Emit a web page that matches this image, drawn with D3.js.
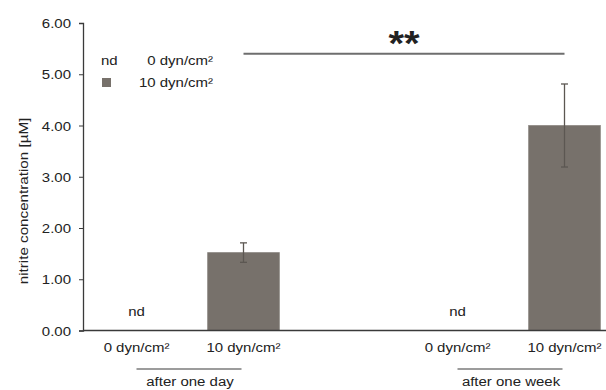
<!DOCTYPE html>
<html>
<head>
<meta charset="utf-8">
<script src="https://cdn.jsdelivr.net/npm/d3@7"></script>
<style>
  html, body { margin: 0; padding: 0; background: #fff; }
  svg { display: block; }
  text { font-family: "Liberation Sans", Arial, sans-serif; fill: #222; }
</style>
</head>
<body>
<svg id="chart" width="606" height="390"></svg>
<script>
// Slots along the x axis; the empty middle slot separates the two time points
const slots = ["day-0", "day-10", "gap", "week-0", "week-10"];
const slotLabels = ["0 dyn/cm²", "10 dyn/cm²", "", "0 dyn/cm²", "10 dyn/cm²"];
// Mean nitrite concentration (µM); null = not detected
const means = [null, 1.52, null, null, 4.00];
// Error bar half-widths (µM)
const errors = [null, 0.19, null, null, 0.81];
// Time-point groups: first and last slot of each bracket
const groupNames = ["after one day", "after one week"];
const groupStart = ["day-0", "week-0"];
const groupEnd = ["day-10", "week-10"];
// Significance bracket between the two 10 dyn/cm² bars
const sigFrom = "day-10";
const sigTo = "week-10";
const sigLevel = 5.4;
const sigText = "**";
// Y axis
const yTicks = [0, 1, 2, 3, 4, 5, 6];
const yLabel = "nitrite concentration [µM]";
// Legend entries
const legendKeys = ["nd", "box"];
const legendLabels = ["0 dyn/cm²", "10 dyn/cm²"];

const barColor = "#77716b";
const fontSize = 15;
const squash = 0.86;   // text is drawn slightly condensed vertically
const svg = d3.select("#chart");

// Adds a text whose baseline sits at (px, py), vertically condensed
function label(parent, px, py, str, anchor = "middle", size = fontSize) {
  return parent.append("text")
    .attr("transform", `translate(${px},${py}) scale(1,${squash})`)
    .attr("text-anchor", anchor)
    .style("font-size", size + "px")
    .text(str);
}

const x = d3.scaleBand()
  .domain(slots)
  .range([83, 618])
  .paddingInner(0.33)
  .paddingOuter(0.165);

const y = d3.scaleLinear().domain([0, 6]).range([330.5, 23]);

// Y axis
const yAxis = svg.append("g")
  .attr("transform", "translate(83,0)")
  .call(d3.axisLeft(y).tickValues(yTicks).tickFormat(d3.format(".2f")).tickSizeOuter(0).tickSize(4).tickPadding(8));
yAxis.select(".domain").attr("stroke", "#3a3a3a").attr("stroke-width", 1.3);
yAxis.selectAll(".tick line").attr("stroke", "#3a3a3a");
yAxis.selectAll(".tick text")
  .style("font-family", '"Liberation Sans", Arial, sans-serif')
  .style("font-size", fontSize + "px").attr("fill", "#222")
  .attr("dy", null).attr("y", 0)
  .attr("transform", `translate(0,${0.36 * fontSize * squash}) scale(1,${squash})`);

svg.append("text")
  .attr("transform", `translate(28,${201}) rotate(-90) scale(1,${squash})`)
  .attr("text-anchor", "middle")
  .style("font-size", "15.2px")
  .text(yLabel);

// Bars
const data = slots.map((s, i) => ({ slot: s, label: slotLabels[i], mean: means[i], err: errors[i] }));
const cx = s => x(s) + x.bandwidth() / 2;

svg.append("g").selectAll("rect")
  .data(data.filter(d => d.mean !== null))
  .join("rect")
  .attr("x", d => x(d.slot))
  .attr("width", x.bandwidth())
  .attr("y", d => y(d.mean))
  .attr("height", d => y(0) - y(d.mean))
  .attr("fill", barColor)
  .attr("stroke", "#8e8984")
  .attr("stroke-width", 0.8);

// Error bars
const eb = svg.append("g").attr("stroke", "#5c5752").attr("stroke-width", 1.3)
  .selectAll("g").data(data.filter(d => d.err !== null)).join("g");
eb.append("line")
  .attr("x1", d => cx(d.slot)).attr("x2", d => cx(d.slot))
  .attr("y1", d => y(d.mean + d.err)).attr("y2", d => y(d.mean - d.err));
eb.append("line")
  .attr("x1", d => cx(d.slot) - 3.5).attr("x2", d => cx(d.slot) + 3.5)
  .attr("y1", d => y(d.mean + d.err)).attr("y2", d => y(d.mean + d.err));
eb.append("line")
  .attr("x1", d => cx(d.slot) - 3.5).attr("x2", d => cx(d.slot) + 3.5)
  .attr("y1", d => y(d.mean - d.err)).attr("y2", d => y(d.mean - d.err));

// "nd" markers for undetected samples
const ndG = svg.append("g");
data.filter(d => d.mean === null && d.label !== "").forEach(d => {
  label(ndG, cx(d.slot), y(0) - 14.5, "nd");
});

// X axis line
svg.append("line")
  .attr("x1", 83).attr("x2", 606)
  .attr("y1", y(0)).attr("y2", y(0))
  .attr("stroke", "#3a3a3a").attr("stroke-width", 1.3);

// Category labels
const catG = svg.append("g");
data.filter(d => d.label !== "").forEach(d => {
  label(catG, cx(d.slot), 352, d.label);
});

// Group brackets and names
groupNames.forEach((name, i) => {
  svg.append("line")
    .attr("x1", cx(groupStart[i])).attr("x2", cx(groupEnd[i]) - 2)
    .attr("y1", 369).attr("y2", 369)
    .attr("stroke", "#3a3a3a").attr("stroke-width", 1.2);
  label(svg, (cx(groupStart[i]) + cx(groupEnd[i])) / 2, 386, name);
});

// Significance line
svg.append("line")
  .attr("x1", cx(sigFrom)).attr("x2", cx(sigTo))
  .attr("y1", y(sigLevel)).attr("y2", y(sigLevel))
  .attr("stroke", "#6e6e6e").attr("stroke-width", 1.8);
label(svg, (cx(sigFrom) + cx(sigTo)) / 2, y(sigLevel) + 1, sigText, "middle", 40)
  .style("font-weight", "bold")
  .attr("fill", "#111");

// Legend
const lg = svg.append("g");
legendKeys.forEach((k, i) => {
  const by = 64.5 + i * 22;
  if (k === "nd") {
    label(lg, 101, by, "nd", "start");
  } else {
    lg.append("rect").attr("x", 102).attr("y", by - 8.5).attr("width", 9).attr("height", 9).attr("fill", barColor);
  }
  label(lg, 213, by, legendLabels[i], "end");
});
</script>
</body>
</html>
